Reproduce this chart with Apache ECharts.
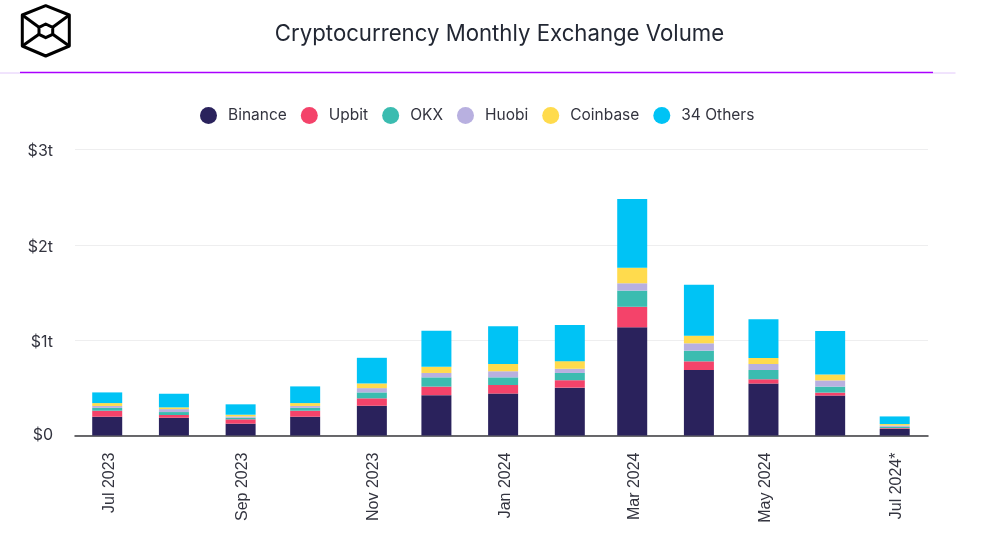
<!DOCTYPE html>
<html><head><meta charset="utf-8">
<style>html,body{margin:0;padding:0;background:#fff}#c{width:981px;height:536px}</style>
<script src="https://cdn.jsdelivr.net/npm/echarts@6/dist/echarts.min.js"></script>
</head><body><div id="c"></div>
<script>
const months = ['2023-07-01','2023-08-01','2023-09-01','2023-10-01','2023-11-01','2023-12-01','2024-01-01','2024-02-01','2024-03-01','2024-04-01','2024-05-01','2024-06-01','2024-07-01'];
const tickLabels = {'2023-07-01':'Jul 2023','2023-09-01':'Sep 2023','2023-11-01':'Nov 2023','2024-01-01':'Jan 2024','2024-03-01':'Mar 2024','2024-05-01':'May 2024','2024-07-01':'Jul 2024*'};
const seriesNames = ['Binance','Upbit','OKX','Huobi','Coinbase','34 Others'];
const colors = ['#2a225c','#f4436a','#3bbcb0','#b8b0e0','#ffdb4d','#00c3f5'];
const binance = [0.197,0.186,0.124,0.197,0.312,0.423,0.440,0.502,1.135,0.687,0.545,0.419,0.069];
const upbit   = [0.063,0.029,0.046,0.063,0.078,0.090,0.090,0.078,0.215,0.091,0.045,0.031,0.008];
const okx     = [0.030,0.031,0.016,0.030,0.062,0.097,0.080,0.076,0.170,0.112,0.097,0.063,0.013];
const huobi   = [0.020,0.031,0.014,0.020,0.045,0.046,0.064,0.044,0.077,0.077,0.063,0.065,0.015];
const coinbase= [0.030,0.018,0.018,0.030,0.049,0.064,0.076,0.080,0.163,0.080,0.063,0.062,0.015];
const others  = [0.112,0.143,0.109,0.175,0.269,0.380,0.396,0.380,0.720,0.533,0.407,0.455,0.080];
const yTicks = {0:'$0',1:'$1t',2:'$2t',3:'$3t'};
const seriesValues = [binance,upbit,okx,huobi,coinbase,others];
const utc = s => new Date(s + 'T00:00:00Z').getTime();
const chart = echarts.init(document.getElementById('c'), null, {renderer:'canvas'});
const logoStyle = {stroke:'#000',lineWidth:3,fill:null,lineJoin:'round'};
const seg = (x1,y1,x2,y2) => ({type:'line',shape:{x1,y1,x2,y2},style:logoStyle,silent:true});
const hex = pts => ({type:'polygon',shape:{points:pts},style:logoStyle,silent:true});
chart.setOption({
  animation:false,
  useUTC:true,
  backgroundColor:'#fff',
  title:{text:'Cryptocurrency Monthly Exchange Volume',left:494.5,top:18,textAlign:'center',
    textStyle:{fontFamily:'Inter',fontSize:22.2,fontWeight:400,color:'#222733'}},
  legend:{top:102,left:195,itemWidth:17,itemHeight:17,icon:'circle',itemGap:14,
    textStyle:{fontFamily:'Inter',fontSize:15.5,color:'#33343f',padding:[0,0,0,6]},
    data:seriesNames},
  grid:{left:75,right:53,top:149.5,height:286,containLabel:false},
  xAxis:{type:'time',min:utc('2023-06-23'),max:utc('2024-07-09')+43200000,splitNumber:6,
    axisLine:{lineStyle:{color:'#3a3a3e',width:1.5}},axisTick:{show:false},splitLine:{show:false},
    axisLabel:{rotate:90,margin:17,fontFamily:'Liberation Sans',fontSize:16,color:'#33343f',hideOverlap:false,showMinLabel:false,showMaxLabel:false,padding:[4,0,0,0],
      formatter:v=>{const d=new Date(v).toISOString().slice(0,10);return tickLabels[d]||'';}}},
  yAxis:{type:'value',min:0,max:3,interval:1,
    axisLine:{show:false},axisTick:{show:false},
    splitLine:{lineStyle:{color:'#eeeeef',width:1.2}},
    axisLabel:{margin:22,fontFamily:'Inter',fontSize:16,color:'#33343f',
      formatter:v=>v===0?'{z|'+yTicks[v]+'}':'{o|'+yTicks[v]+'}',
      rich:{z:{padding:[0,0,0,0]},o:{padding:[4,0,0,0]}}}},
  series:seriesNames.map((name,i)=>({
    name,type:'bar',stack:'v',barWidth:30,
    itemStyle:{color:colors[i]},
    emphasis:{disabled:true},
    data:months.map((m,j)=>[utc(m),seriesValues[i][j]])
  })),
  graphic:[
    {type:'line',shape:{x1:0,y1:73,x2:20,y2:73},style:{stroke:'#e2c8fb',lineWidth:1},silent:true},
    {type:'line',shape:{x1:933,y1:73,x2:955.5,y2:73},style:{stroke:'#e2c8fb',lineWidth:1},silent:true},
    {type:'line',shape:{x1:20,y1:72.5,x2:933,y2:72.5},style:{stroke:'#aa00ff',lineWidth:1.6},silent:true},
    hex([[45.7,5.7],[69.3,15],[69.3,46],[45.7,56],[22.3,46],[22.3,15]]),
    hex([[45.7,24],[52.7,27.3],[52.7,34.3],[45.7,37.7],[39,34.3],[39,27.3]]),
    seg(22.3,15,39,27.3),seg(69.3,15,52.7,27.3),seg(22.3,46,39,34.3),seg(69.3,46,52.7,34.3)
  ]
});
</script></body></html>
